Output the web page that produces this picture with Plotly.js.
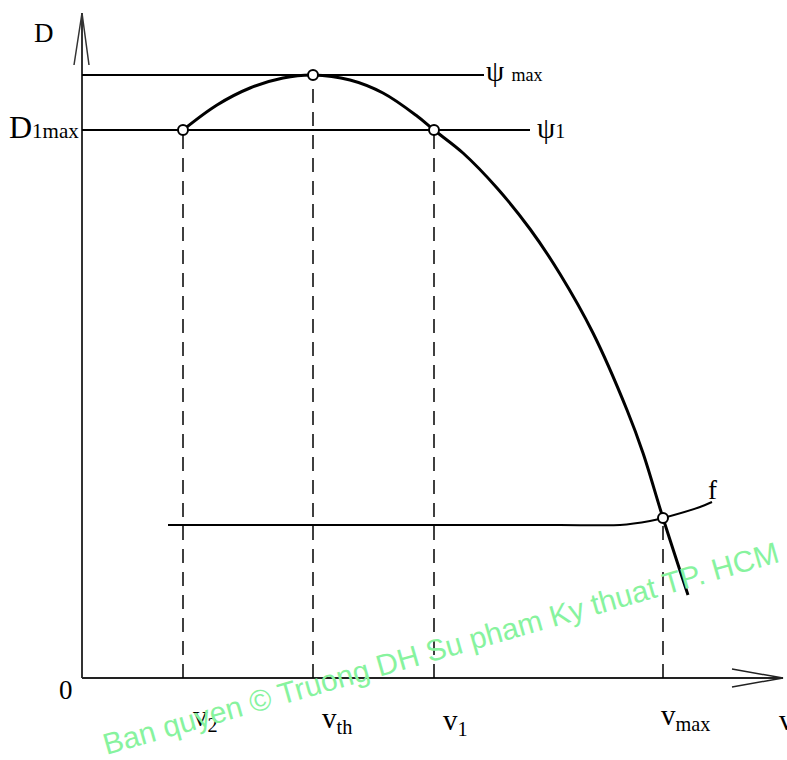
<!DOCTYPE html>
<html>
<head>
<meta charset="utf-8">
<script src="https://cdn.plot.ly/plotly-3.0.1.min.js"></script>
<style>html,body{margin:0;padding:0;background:#fff;}#chart{width:787px;height:760px;}</style>
</head>
<body>
<div id="chart"></div>
<script>
// Abstract units: v along the horizontal axis, D along the vertical axis (origin at 0,0)
var speedNames = ["v2", "vth", "v1", "vmax"];
var speedValues = [101, 231, 352, 581];
var pointD = [548, 603, 548, 160];

var psiMaxLevel = 603;
var psiMaxEnd = 402;
var psi1Level = 548;
var psi1End = 448;

// D(v) dynamic characteristic curve
var curveV = [101, 135, 168, 201, 231, 268, 301, 335, 352, 381, 415, 448, 478, 511, 545, 561, 581, 606];
var curveD = [548, 573, 590, 600, 603, 598, 585, 562, 548, 525, 490, 449, 404, 345, 268, 225, 160, 83];

// resistance f curve
var fV = [86, 478, 538, 568, 581, 618, 630];
var fD = [153, 153, 153, 157, 160, 171, 176];

// axes (with arrow heads)
var yAxisV = [0, 0], yAxisD = [0, 665];
var yArrowV = [-8, 0, 7], yArrowD = [613, 665, 613];
var xAxisV = [0, 701], xAxisD = [0, 0];
var xArrowV = [650, 701, 650], xArrowD = [9, 0, -9];

var black = "#000";
var traces = [];
traces.push({x: yAxisV, y: yAxisD, mode: "lines", line: {color: "#333", width: 2}, hoverinfo: "skip"});
traces.push({x: yArrowV, y: yArrowD, mode: "lines", line: {color: "#333", width: 1.5}, hoverinfo: "skip"});
traces.push({x: xAxisV, y: xAxisD, mode: "lines", line: {color: "#222", width: 2}, hoverinfo: "skip"});
traces.push({x: xArrowV, y: xArrowD, mode: "lines", line: {color: "#222", width: 1.5}, hoverinfo: "skip"});

// dashed projection lines
for (var i = 0; i < speedValues.length; i++) {
  traces.push({x: [speedValues[i], speedValues[i]], y: [0, pointD[i]], mode: "lines",
    line: {color: black, width: 1.5, dash: "14px,9px"}, hoverinfo: "skip"});
}
// horizontal psi lines
traces.push({x: [0, psiMaxEnd], y: [psiMaxLevel, psiMaxLevel], mode: "lines", line: {color: black, width: 2}, hoverinfo: "skip"});
traces.push({x: [0, psi1End], y: [psi1Level, psi1Level], mode: "lines", line: {color: black, width: 2}, hoverinfo: "skip"});
// f curve
traces.push({x: fV, y: fD, mode: "lines", line: {color: black, width: 2, shape: "spline", smoothing: 0.6}, hoverinfo: "skip"});
// D curve
traces.push({x: curveV, y: curveD, mode: "lines", line: {color: black, width: 3, shape: "spline", smoothing: 1}, hoverinfo: "skip"});
// marker circles
traces.push({x: speedValues, y: pointD, mode: "markers",
  marker: {symbol: "circle", size: 10, color: "#fff", line: {color: black, width: 2}}, hoverinfo: "skip"});

var serif = "Liberation Serif, Times New Roman, serif";
function ann(x, y, text, size, xanchor) {
  return {x: x, y: y, text: text, showarrow: false, xanchor: xanchor || "center", yanchor: "middle",
    font: {family: serif, size: size, color: black}};
}
var s = function (t, sz) { return "<span style='font-size:" + sz + "px'>" + t + "</span>"; };
var annotations = [
  ann(-38, 645, "D", 27),
  ann(-1, 551, "D" + s("1max", 21), 32, "right"),
  ann(402, 607, "ψ " + s("max", 18), 29, "left"),
  ann(453, 550, "ψ" + s("1", 20), 29, "left"),
  ann(-16, -12, "0", 27),
  ann(630, 188, "f", 27),
  ann(speedValues[0] + 22, -40, "v<sub>2</sub>", 29),
  ann(speedValues[1] + 24, -42, "v<sub>th</sub>", 29),
  ann(speedValues[2] + 21, -44, "v<sub>1</sub>", 29),
  ann(speedValues[3] + 22, -39, "v<sub>max</sub>", 29),
  ann(695, -42, "v", 29, "left"),
  {x: 358, y: 30, text: "Ban quyen © Truong DH Su pham Ky thuat TP. HCM", showarrow: false,
   xanchor: "center", yanchor: "middle", textangle: -16,
   font: {family: "Liberation Sans, Arial, sans-serif", size: 30, color: "rgb(135,243,158)"}}
];

var layout = {
  width: 787, height: 760,
  margin: {l: 0, r: 0, t: 0, b: 0},
  paper_bgcolor: "#fff", plot_bgcolor: "#fff",
  showlegend: false,
  xaxis: {range: [-82, 705], visible: false, fixedrange: true},
  yaxis: {range: [-82, 678], visible: false, fixedrange: true},
  annotations: annotations
};
Plotly.newPlot("chart", traces, layout, {staticPlot: true, displayModeBar: false});
</script>
</body>
</html>
